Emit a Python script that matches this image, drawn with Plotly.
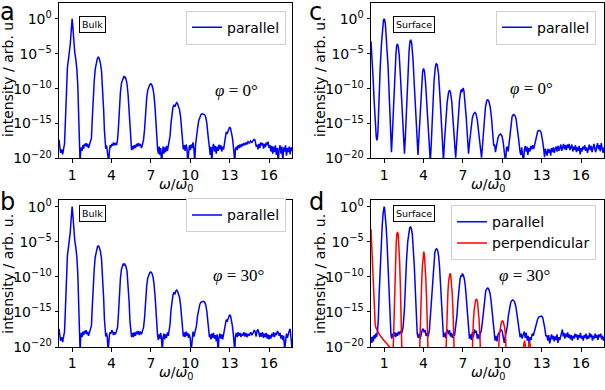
import plotly.graph_objects as go

# spectra: (omega/omega0, log10 intensity)
bulk_0deg = [
    (0.00,-17.3),(0.05,-18.4),(0.12,-19.2),(0.20,-18.7),(0.28,-19.4),(0.36,-18.5),(0.42,-17.9),
    (0.47,-15.5),(0.52,-12.0),(0.58,-9.0),(0.64,-7.0),(0.72,-5.8),(0.80,-4.8),(0.86,-3.6),(0.91,-2.2),
    (0.96,-0.8),(1.00,0.0),(1.04,-0.8),(1.09,-2.2),(1.14,-3.6),(1.20,-4.8),(1.28,-5.8),(1.36,-7.2),
    (1.43,-9.5),(1.49,-13.0),(1.54,-16.5),(1.58,-19.0),(1.61,-20.8),(1.65,-18.9),
    (1.70,-18.4),(1.76,-18.9),(1.82,-18.1),(1.88,-18.6),(1.94,-17.9),(2.00,-18.2),(2.06,-17.8),
    (2.12,-18.3),(2.18,-17.9),(2.25,-18.5),(2.32,-18.1),(2.40,-17.8),(2.47,-17.1),
    (2.53,-14.5),(2.60,-11.5),(2.68,-9.0),(2.76,-7.2),(2.84,-6.2),(2.92,-5.7),(2.97,-5.5),(3.02,-5.5),
    (3.08,-5.8),(3.16,-6.4),(3.24,-7.5),(3.32,-9.6),(3.40,-13.0),(3.46,-16.0),(3.51,-18.0),
    (3.56,-18.6),(3.62,-18.1),(3.68,-19.0),(3.74,-19.5),(3.79,-20.6),(3.84,-18.9),(3.90,-18.1),
    (3.96,-18.4),(4.02,-17.9),(4.08,-18.2),(4.15,-17.7),(4.22,-18.1),(4.30,-17.8),(4.38,-18.1),(4.46,-17.3),
    (4.53,-15.5),(4.60,-12.8),(4.68,-10.5),(4.76,-9.2),(4.84,-8.6),(4.90,-8.4),(4.95,-8.2),(5.00,-8.5),
    (5.04,-8.3),(5.10,-8.6),(5.18,-9.3),(5.26,-10.8),(5.34,-13.5),(5.41,-16.5),(5.47,-18.3),
    (5.53,-18.8),(5.60,-18.2),(5.67,-18.7),(5.74,-18.1),(5.82,-18.5),(5.90,-17.9),(5.97,-18.3),
    (6.04,-17.8),(6.12,-18.2),(6.20,-17.9),(6.28,-18.5),(6.36,-18.0),(6.44,-17.3),
    (6.52,-15.8),(6.60,-13.2),(6.68,-11.3),(6.76,-10.2),(6.84,-9.7),(6.92,-9.4),(7.00,-9.3),
    (7.08,-9.5),(7.16,-10.0),(7.24,-11.0),(7.32,-12.8),(7.40,-15.5),(7.46,-17.8),
    (7.51,-18.6),(7.57,-19.3),(7.63,-18.3),(7.69,-19.5),(7.75,-18.5),(7.81,-20.6),(7.87,-18.9),
    (7.93,-18.3),(7.99,-19.3),(8.05,-18.4),(8.12,-19.1),(8.19,-18.2),(8.26,-18.9),(8.33,-18.0),
    (8.40,-17.7),(8.46,-16.8),
    (8.53,-15.0),(8.60,-13.5),(8.68,-12.7),(8.76,-12.3),(8.83,-12.6),(8.90,-12.2),(8.97,-12.0),
    (9.04,-12.2),(9.11,-12.6),(9.18,-13.0),(9.26,-14.0),(9.34,-15.8),(9.41,-17.8),
    (9.47,-18.7),(9.54,-18.1),(9.61,-18.9),(9.68,-18.0),(9.75,-18.6),(9.81,-20.6),(9.86,-18.7),
    (9.93,-18.1),(10.00,-18.8),(10.07,-18.0),(10.14,-18.5),(10.21,-17.7),(10.28,-18.7),(10.34,-20.6),
    (10.40,-18.1),(10.47,-17.3),
    (10.55,-15.8),(10.64,-14.6),(10.73,-14.0),(10.82,-13.7),(10.91,-13.6),(11.00,-13.6),(11.09,-13.7),
    (11.18,-14.1),(11.26,-14.9),(11.33,-16.3),(11.40,-17.8),(11.46,-18.7),
    (11.52,-19.5),(11.58,-18.3),(11.64,-20.6),(11.70,-18.6),(11.77,-17.9),(11.84,-19.0),(11.91,-18.2),
    (11.98,-19.3),(12.05,-18.3),(12.12,-18.9),(12.19,-18.0),(12.26,-18.7),(12.33,-18.1),(12.40,-19.0),
    (12.47,-18.3),(12.54,-18.7),(12.61,-17.7),
    (12.68,-16.8),(12.74,-16.2),(12.80,-16.5),(12.86,-16.1),(12.93,-15.6),(13.00,-15.5),(13.07,-15.7),
    (13.14,-16.2),(13.21,-17.0),(13.28,-18.2),(13.34,-19.3),(13.39,-20.6),
    (13.44,-18.7),(13.51,-18.3),(13.58,-18.8),(13.65,-18.1),(13.72,-18.5),(13.79,-18.0),(13.86,-18.4),
    (13.93,-17.9),(14.00,-18.2),(14.08,-17.8),(14.16,-18.1),(14.24,-17.7),(14.32,-18.0),(14.40,-17.6),
    (14.50,-17.8),(14.60,-17.5),(14.70,-17.7),(14.80,-17.3),(14.88,-17.2),(14.95,-17.5),(15.02,-18.3),
    (15.09,-18.0),(15.16,-18.7),(15.23,-17.9),(15.30,-18.5),(15.37,-17.7),(15.44,-18.1),(15.51,-17.8),
    (15.58,-18.6),(15.65,-17.9),(15.72,-18.4),(15.79,-17.7),(15.86,-18.1),(15.93,-17.6),(16.00,-18.5),
    (16.07,-18.1),(16.14,-19.0),(16.21,-18.2),(16.28,-19.3),(16.35,-18.3),(16.42,-19.1),(16.49,-18.1),
    (16.56,-19.5),(16.63,-18.5),(16.70,-20.6),(16.77,-18.7),(16.84,-18.1),(16.91,-19.3),(16.98,-18.3),
    (17.05,-20.3),(17.12,-18.4),(17.19,-19.0),(17.26,-18.1),(17.33,-19.6),(17.40,-18.5),(17.47,-19.1),
    (17.54,-18.3),(17.61,-19.4),(17.68,-18.4),(17.75,-18.9),
]

bulk_30deg = [
    (0.00,-17.4),(0.05,-18.5),(0.12,-19.1),(0.20,-18.6),(0.28,-19.3),(0.36,-18.4),(0.42,-17.8),
    (0.47,-15.5),(0.52,-12.0),(0.58,-9.0),(0.64,-7.0),(0.72,-5.8),(0.80,-4.8),(0.86,-3.6),(0.91,-2.2),
    (0.96,-0.8),(1.00,0.0),(1.04,-0.8),(1.09,-2.2),(1.14,-3.6),(1.20,-4.8),(1.28,-5.8),(1.36,-7.2),
    (1.43,-9.5),(1.49,-13.0),(1.54,-16.5),(1.58,-19.0),(1.61,-20.8),(1.65,-18.6),
    (1.70,-18.0),(1.76,-18.6),(1.82,-17.8),(1.88,-18.3),(1.94,-17.7),(2.00,-18.1),(2.06,-17.6),
    (2.12,-18.2),(2.18,-17.8),(2.25,-18.4),(2.32,-18.0),(2.40,-17.7),(2.47,-17.0),
    (2.53,-14.5),(2.60,-11.5),(2.68,-9.0),(2.76,-7.2),(2.84,-6.2),(2.92,-5.8),(2.97,-5.6),(3.02,-5.6),
    (3.08,-5.9),(3.16,-6.4),(3.24,-7.5),(3.32,-9.6),(3.40,-13.0),(3.46,-16.0),(3.51,-17.9),
    (3.56,-18.5),(3.62,-18.0),(3.68,-18.7),(3.74,-20.6),(3.79,-19.0),(3.84,-18.3),(3.90,-17.9),
    (3.96,-18.1),(4.02,-17.6),(4.08,-17.8),(4.15,-18.3),(4.22,-17.9),(4.30,-18.2),(4.38,-17.8),(4.46,-17.2),
    (4.53,-15.3),(4.60,-12.5),(4.68,-10.2),(4.76,-8.9),(4.84,-8.3),(4.90,-8.1),(4.95,-8.4),(5.00,-8.1),
    (5.04,-8.3),(5.10,-8.5),(5.18,-9.2),(5.26,-10.8),(5.34,-13.5),(5.41,-16.5),(5.47,-18.2),
    (5.53,-18.6),(5.60,-18.0),(5.67,-18.6),(5.74,-17.9),(5.82,-18.4),(5.90,-17.8),(5.97,-18.2),
    (6.04,-17.7),(6.12,-18.3),(6.20,-17.8),(6.28,-18.2),(6.36,-17.7),(6.44,-17.2),
    (6.52,-15.8),(6.60,-13.2),(6.68,-11.3),(6.76,-10.2),(6.84,-9.7),(6.92,-9.4),(7.00,-9.3),
    (7.08,-9.5),(7.16,-10.0),(7.24,-11.0),(7.32,-12.8),(7.40,-15.5),(7.46,-17.8),
    (7.51,-18.4),(7.57,-19.0),(7.63,-18.2),(7.69,-18.8),(7.75,-18.0),(7.81,-18.9),(7.87,-20.6),
    (7.93,-18.6),(7.99,-18.1),(8.05,-18.9),(8.12,-18.2),(8.19,-18.7),(8.26,-17.9),(8.33,-18.4),
    (8.40,-17.6),(8.46,-16.7),
    (8.53,-14.8),(8.60,-13.3),(8.68,-12.6),(8.76,-12.2),(8.83,-12.5),(8.90,-12.0),(8.97,-11.9),
    (9.04,-12.1),(9.11,-12.5),(9.18,-12.9),(9.26,-14.0),(9.34,-15.8),(9.41,-17.8),
    (9.47,-18.5),(9.54,-17.9),(9.61,-18.6),(9.68,-17.8),(9.75,-18.4),(9.81,-18.0),(9.86,-18.7),
    (9.93,-18.2),(10.00,-18.8),(10.07,-20.6),(10.14,-18.4),(10.21,-17.8),(10.28,-18.5),(10.34,-18.0),
    (10.40,-17.8),(10.47,-17.0),
    (10.55,-15.6),(10.64,-14.4),(10.73,-13.9),(10.82,-13.6),(10.91,-13.5),(11.00,-13.5),(11.09,-13.6),
    (11.18,-14.0),(11.26,-14.9),(11.33,-16.3),(11.40,-17.8),(11.46,-18.6),
    (11.52,-18.2),(11.58,-18.9),(11.64,-18.1),(11.70,-18.7),(11.77,-18.0),(11.84,-18.8),(11.91,-18.3),
    (11.98,-19.2),(12.05,-18.2),(12.12,-20.6),(12.19,-18.6),(12.26,-18.1),(12.33,-18.8),(12.40,-18.2),
    (12.47,-18.9),(12.54,-18.3),(12.61,-17.6),
    (12.68,-16.7),(12.74,-16.1),(12.80,-16.4),(12.86,-16.0),(12.93,-15.5),(13.00,-15.4),(13.07,-15.6),
    (13.14,-16.1),(13.21,-17.0),(13.28,-18.2),(13.34,-19.3),(13.39,-20.6),
    (13.44,-18.5),(13.51,-18.0),(13.58,-18.6),(13.65,-17.9),(13.72,-18.4),(13.79,-18.0),(13.86,-18.6),
    (13.93,-18.1),(14.00,-18.4),(14.08,-17.9),(14.16,-18.5),(14.24,-18.0),(14.32,-18.6),(14.40,-18.1),
    (14.50,-18.4),(14.60,-17.9),(14.70,-18.3),(14.80,-17.8),(14.88,-17.6),(14.95,-17.9),(15.02,-18.5),
    (15.09,-17.7),(15.16,-17.5),(15.23,-18.0),(15.30,-18.6),(15.37,-18.0),(15.44,-18.5),(15.51,-17.9),
    (15.58,-18.7),(15.65,-18.1),(15.72,-18.6),(15.79,-18.0),(15.86,-18.8),(15.93,-18.2),(16.00,-18.9),
    (16.07,-18.3),(16.14,-18.8),(16.21,-18.1),(16.28,-18.5),(16.35,-17.9),(16.42,-18.6),(16.49,-18.0),
    (16.56,-18.3),(16.63,-17.8),(16.70,-17.9),(16.77,-18.4),(16.84,-18.0),(16.91,-18.8),(16.98,-18.3),
    (17.05,-19.0),(17.12,-18.4),(17.19,-20.4),(17.26,-18.6),(17.33,-18.1),(17.40,-18.7),(17.47,-18.0),
    (17.54,-17.7),(17.61,-17.4),(17.68,-18.5),(17.75,-20.2),
]

surface_0deg = [
    (0.00,-3.2),(0.08,-5.5),(0.16,-8.5),(0.24,-11.8),(0.32,-14.8),(0.40,-16.9),(0.45,-17.4),
    (0.49,-17.1),(0.53,-16.0),(0.60,-11.5),(0.70,-7.0),(0.80,-3.5),(0.90,-1.0),(0.95,-0.2),(1.00,0.0),
    (1.05,-0.2),(1.10,-0.9),(1.20,-3.2),(1.30,-6.8),(1.40,-11.5),(1.50,-16.5),(1.56,-19.1),
    (1.62,-16.8),(1.70,-12.8),(1.80,-8.5),(1.90,-5.0),(1.96,-3.8),(2.02,-3.6),(2.08,-4.0),(2.15,-5.2),
    (2.25,-8.5),(2.35,-12.5),(2.45,-16.5),(2.55,-19.3),(2.62,-16.8),(2.70,-12.5),(2.80,-8.0),
    (2.90,-4.6),(2.97,-3.2),(3.03,-3.0),(3.10,-3.5),(3.20,-5.8),(3.30,-9.5),(3.40,-13.5),(3.50,-17.3),
    (3.58,-19.5),(3.65,-17.0),(3.75,-12.8),(3.85,-9.5),(3.93,-7.6),(4.00,-7.1),(4.07,-7.5),(4.15,-9.0),
    (4.25,-12.5),(4.35,-16.0),(4.45,-19.0),(4.52,-20.5),(4.60,-17.5),(4.70,-13.0),(4.80,-9.0),
    (4.90,-6.9),(4.97,-6.4),(5.05,-6.6),(5.15,-8.0),(5.25,-11.0),(5.35,-14.8),(5.45,-18.5),(5.52,-20.3),
    (5.60,-17.5),(5.70,-14.5),(5.80,-12.0),(5.90,-10.6),(5.98,-10.2),(6.05,-10.5),(6.15,-11.8),
    (6.25,-14.5),(6.35,-17.5),(6.45,-19.9),(6.55,-17.0),(6.65,-13.8),(6.75,-11.5),(6.85,-10.3),
    (6.90,-10.1),(6.93,-10.5),(6.97,-10.0),(7.02,-9.9),(7.08,-10.3),(7.15,-11.5),(7.25,-14.0),
    (7.35,-17.0),(7.43,-19.3),(7.52,-17.5),(7.62,-15.5),(7.72,-14.2),(7.82,-13.6),(7.92,-13.4),
    (8.00,-13.6),(8.10,-14.5),(8.20,-16.2),(8.30,-18.2),(8.42,-19.9),(8.52,-17.5),(8.62,-14.5),
    (8.72,-12.6),(8.82,-11.7),(8.90,-11.6),(8.98,-11.8),(9.08,-12.6),(9.18,-14.2),(9.28,-16.5),
    (9.35,-18.2),(9.42,-18.0),(9.48,-19.1),(9.58,-18.0),(9.68,-17.0),(9.78,-16.6),(9.88,-16.5),
    (9.98,-16.8),(10.08,-17.8),(10.18,-19.5),(10.25,-20.5),(10.32,-18.5),(10.38,-18.3),(10.45,-19.0),
    (10.55,-17.0),(10.65,-15.0),(10.75,-14.0),(10.85,-13.7),(10.95,-13.8),(11.05,-14.3),(11.15,-15.6),
    (11.25,-17.3),(11.35,-19.0),(11.42,-19.5),(11.48,-18.4),(11.55,-19.3),(11.62,-20.6),(11.68,-18.8),
    (11.75,-18.2),(11.82,-19.0),(11.88,-18.3),(11.95,-19.5),(12.02,-18.5),(12.10,-19.0),(12.18,-18.2),
    (12.25,-18.7),(12.32,-18.1),(12.40,-18.6),(12.48,-17.9),(12.55,-17.1),(12.62,-16.5),(12.70,-16.1),
    (12.78,-16.0),(12.86,-16.0),(12.95,-16.2),(13.02,-16.8),(13.08,-17.6),(13.15,-18.6),(13.22,-19.8),
    (13.28,-18.6),(13.36,-19.2),(13.42,-19.6),(13.48,-18.6),(13.55,-19.2),(13.62,-18.7),(13.69,-19.6),
    (13.76,-18.5),(13.83,-19.1),(13.90,-18.4),(13.97,-19.2),(14.04,-18.6),(14.11,-18.3),(14.18,-19.0),
    (14.25,-18.2),(14.32,-18.9),(14.39,-18.4),(14.46,-18.0),(14.53,-18.9),(14.60,-18.3),(14.67,-17.9),
    (14.74,-18.7),(14.81,-18.1),(14.88,-18.8),(14.95,-18.0),(15.02,-18.5),(15.09,-17.9),(15.16,-18.8),
    (15.23,-18.2),(15.30,-18.0),(15.37,-19.0),(15.44,-18.3),(15.51,-18.8),(15.58,-18.1),(15.65,-19.1),
    (15.72,-18.4),(15.79,-18.9),(15.86,-18.2),(15.93,-19.4),(16.00,-18.5),(16.07,-19.0),(16.14,-18.3),
    (16.21,-18.7),(16.28,-18.1),(16.35,-18.9),(16.42,-18.4),(16.49,-19.2),(16.56,-18.6),(16.63,-18.0),
    (16.70,-18.8),(16.77,-18.2),(16.84,-19.1),(16.91,-18.4),(16.98,-17.9),(17.05,-18.6),(17.12,-19.1),
    (17.19,-18.3),(17.26,-17.8),(17.33,-18.7),(17.40,-18.1),(17.47,-19.0),(17.54,-17.8),(17.61,-18.5),
    (17.68,-19.2),(17.75,-18.4),
]

surface_30deg_par = [
    (0.00,-18.6),(0.06,-19.4),(0.12,-18.5),(0.18,-19.2),(0.24,-18.3),(0.30,-18.8),(0.36,-18.1),
    (0.42,-18.6),(0.50,-17.7),(0.56,-16.0),(0.62,-12.5),(0.70,-8.5),(0.78,-5.0),(0.85,-2.8),
    (0.92,-1.0),(0.97,-0.2),(1.00,0.0),(1.03,-0.2),(1.08,-1.0),(1.15,-2.8),(1.22,-5.0),(1.30,-8.5),
    (1.38,-12.5),(1.45,-16.0),(1.52,-18.2),(1.58,-18.8),(1.65,-18.1),(1.72,-18.5),(1.80,-17.9),
    (1.88,-18.6),(1.95,-18.0),(2.02,-18.4),(2.10,-17.8),(2.18,-18.2),(2.26,-17.7),(2.35,-18.0),
    (2.45,-17.1),(2.55,-14.5),(2.62,-11.0),(2.70,-7.8),(2.80,-5.0),(2.88,-3.6),(2.95,-3.0),(3.02,-2.9),
    (3.08,-3.2),(3.15,-4.0),(3.22,-5.8),(3.30,-8.5),(3.38,-12.0),(3.45,-15.5),(3.52,-18.1),(3.60,-18.7),
    (3.68,-18.1),(3.75,-18.8),(3.82,-17.9),(3.90,-17.6),(3.97,-17.4),(4.05,-17.9),(4.12,-17.6),
    (4.20,-18.4),(4.28,-18.0),(4.35,-18.5),(4.45,-17.6),(4.55,-15.0),(4.62,-12.5),(4.70,-9.8),
    (4.78,-7.8),(4.86,-6.6),(4.93,-6.1),(5.00,-6.0),(5.07,-6.2),(5.15,-7.0),(5.22,-8.5),(5.30,-10.8),
    (5.38,-13.8),(5.46,-16.8),(5.52,-18.6),(5.60,-18.0),(5.68,-18.7),(5.75,-17.8),(5.82,-17.5),
    (5.90,-18.2),(5.98,-17.6),(6.05,-18.5),(6.12,-18.0),(6.20,-18.7),(6.28,-18.1),(6.36,-18.4),
    (6.45,-17.3),(6.55,-15.5),(6.62,-13.5),(6.70,-11.6),(6.78,-10.4),(6.85,-9.8),(6.90,-10.0),
    (6.95,-9.6),(7.02,-9.7),(7.10,-10.2),(7.18,-11.2),(7.26,-13.0),(7.34,-15.3),(7.42,-17.5),
    (7.50,-18.8),(7.58,-18.2),(7.65,-19.0),(7.72,-17.9),(7.80,-18.6),(7.88,-17.5),(7.95,-18.0),
    (8.02,-17.7),(8.10,-18.8),(8.18,-18.2),(8.25,-18.9),(8.32,-18.1),(8.40,-17.7),(8.50,-16.2),
    (8.58,-14.4),(8.66,-12.9),(8.74,-12.0),(8.82,-11.7),(8.90,-11.6),(8.98,-11.8),(9.06,-12.3),
    (9.14,-13.3),(9.22,-14.8),(9.30,-16.5),(9.38,-18.3),(9.45,-19.1),(9.52,-18.4),(9.60,-19.2),
    (9.68,-18.2),(9.76,-17.9),(9.84,-17.6),(9.92,-17.5),(10.00,-17.8),(10.08,-18.5),(10.15,-19.4),
    (10.22,-18.6),(10.30,-18.0),(10.38,-17.1),(10.46,-15.6),(10.55,-14.4),(10.64,-13.7),(10.72,-13.4),
    (10.80,-13.3),(10.88,-13.4),(10.96,-13.7),(11.04,-14.3),(11.12,-15.5),(11.20,-16.8),(11.28,-17.9),
    (11.36,-18.6),(11.44,-18.1),(11.52,-18.8),(11.60,-18.2),(11.68,-17.8),(11.75,-18.7),(11.82,-18.0),
    (11.90,-19.1),(11.97,-18.4),(12.05,-19.6),(12.12,-18.6),(12.20,-19.0),(12.28,-18.1),(12.36,-18.4),
    (12.44,-17.8),(12.52,-17.3),(12.60,-16.6),(12.70,-16.0),(12.80,-15.7),(12.90,-15.6),(13.00,-15.6),
    (13.08,-15.8),(13.16,-16.4),(13.24,-17.3),(13.32,-18.4),(13.40,-18.4),(13.47,-19.1),(13.54,-18.3),
    (13.61,-19.5),(13.68,-18.6),(13.75,-18.2),(13.82,-18.9),(13.89,-18.4),(13.96,-19.2),(14.03,-18.5),
    (14.10,-19.0),(14.17,-18.2),(14.24,-19.4),(14.31,-18.6),(14.38,-19.0),(14.45,-18.3),(14.52,-17.8),
    (14.58,-17.5),(14.64,-18.5),(14.70,-18.0),(14.77,-18.8),(14.84,-18.1),(14.91,-18.6),(14.98,-17.9),
    (15.05,-18.7),(15.12,-18.2),(15.19,-18.9),(15.26,-18.3),(15.33,-19.1),(15.40,-18.4),(15.47,-18.8),
    (15.54,-18.1),(15.61,-18.6),(15.68,-18.2),(15.75,-19.0),(15.82,-18.3),(15.89,-18.7),(15.96,-18.0),
    (16.03,-18.8),(16.10,-18.4),(16.17,-19.1),(16.24,-18.3),(16.31,-18.7),(16.38,-18.1),(16.45,-18.9),
    (16.52,-18.4),(16.59,-18.8),(16.66,-18.0),(16.73,-18.6),(16.80,-18.2),(16.87,-19.1),(16.94,-18.4),
    (17.01,-18.8),(17.08,-18.1),(17.15,-18.7),(17.22,-18.3),(17.29,-19.0),(17.36,-18.2),(17.43,-18.6),
    (17.50,-18.1),(17.57,-18.9),(17.64,-18.4),(17.71,-19.1),(17.78,-18.6),
]

surface_30deg_perp = [
    (0.00,-3.2),(0.04,-5.0),(0.08,-7.0),(0.12,-9.0),(0.16,-11.0),(0.20,-12.8),(0.24,-14.6),
    (0.28,-16.0),(0.32,-16.8),(0.38,-17.3),(0.48,-17.7),(0.60,-18.1),(0.75,-18.5),(0.90,-18.9),
    (1.05,-19.2),(1.20,-19.5),(1.35,-19.8),(1.45,-20.1),(1.55,-21.0),(1.62,-23.0),
    (1.68,-21.0),(1.74,-16.0),(1.80,-11.5),(1.86,-7.8),(1.92,-5.2),(1.97,-3.9),(2.02,-3.6),
    (2.07,-3.9),(2.12,-5.2),(2.18,-7.8),(2.24,-11.5),(2.30,-16.0),(2.36,-21.0),(2.42,-26.0),
    (3.62,-26.0),(3.68,-21.0),(3.74,-17.0),(3.80,-13.6),(3.86,-10.8),(3.92,-8.4),(3.97,-7.0),
    (4.02,-6.4),(4.07,-6.9),(4.12,-8.1),(4.18,-10.5),(4.24,-13.4),(4.30,-17.0),(4.36,-21.0),(4.42,-26.0),
    (5.62,-26.0),(5.68,-21.5),(5.74,-17.5),(5.80,-14.5),(5.86,-12.2),(5.92,-10.5),(5.97,-9.7),
    (6.02,-9.5),(6.07,-9.7),(6.12,-10.5),(6.18,-12.2),(6.24,-14.5),(6.30,-17.5),(6.36,-21.5),(6.42,-26.0),
    (7.62,-26.0),(7.68,-21.5),(7.74,-18.5),(7.80,-16.3),(7.86,-14.7),(7.92,-13.7),(7.97,-13.3),
    (8.02,-13.2),(8.07,-13.3),(8.12,-13.7),(8.18,-14.7),(8.24,-16.3),(8.30,-18.5),(8.36,-21.5),(8.42,-26.0),
    (9.62,-26.0),(9.68,-21.5),(9.74,-19.5),(9.80,-18.0),(9.86,-17.1),(9.92,-16.6),(9.97,-16.35),
    (10.02,-16.3),(10.07,-16.4),(10.12,-16.7),(10.18,-17.2),(10.24,-18.2),(10.30,-19.8),(10.36,-22.0),
    (10.42,-26.0),
    (11.50,-26.0),(11.58,-21.0),(11.64,-19.6),(11.70,-19.1),(11.76,-19.6),(11.82,-20.6),(11.88,-21.2),
    (11.95,-20.4),(12.02,-19.4),(12.08,-19.2),(12.14,-19.8),(12.20,-21.0),(12.28,-26.0),(17.80,-26.0),
]

x_ticks = [1, 4, 7, 10, 13, 16]
y_ticks = [0, -5, -10, -15, -20]
y_ticktext = ["10<sup>0</sup>", "10<sup>−5</sup>", "10<sup>−10</sup>", "10<sup>−15</sup>", "10<sup>−20</sup>"]

W, H = 605, 390
FONT = "DejaVu Sans"
BLUE = "#0000ff"
RED = "#ff0000"


def px(p):
    return p / W


def py(p):
    return 1 - p / H


def curve(points, color, name, xa, ya, legend):
    return go.Scatter(
        x=[p[0] for p in points], y=[10 ** p[1] for p in points],
        mode="lines", line=dict(color=color, width=1.5),
        name=name, xaxis=xa, yaxis=ya, legend=legend, showlegend=True,
    )


fig = go.Figure()
fig.add_trace(curve(bulk_0deg, BLUE, "parallel", "x", "y", "legend"))
fig.add_trace(curve(surface_0deg, BLUE, "parallel", "x2", "y2", "legend2"))
fig.add_trace(curve(bulk_30deg, BLUE, "parallel", "x3", "y3", "legend3"))
fig.add_trace(curve(surface_30deg_par, BLUE, "parallel", "x4", "y4", "legend4"))
fig.add_trace(curve(surface_30deg_perp, RED, "perpendicular", "x4", "y4", "legend4"))

# panel boxes in pixels: left, right, top, bottom, log10 of y top
panels = {
    "": (59, 292, 0.5, 160, 2.2),
    "2": (371, 604, 0.5, 160, 2.2),
    "3": (59, 292, 203, 354, 0.9),
    "4": (371, 604, 203, 354, 0.9),
}

axis_common = dict(
    showline=True, mirror=True, linecolor="black", linewidth=1,
    ticks="outside", ticklen=3.5, tickwidth=1, tickcolor="black",
    showgrid=False, zeroline=False,
    tickfont=dict(family=FONT, size=14, color="black"),
)

layout_axes = {}
for k, (l, r, t, b, ytop) in panels.items():
    layout_axes["xaxis" + k] = dict(
        domain=[px(l), px(r)], range=[0, 17.75], anchor="y" + k,
        tickvals=x_ticks, **axis_common)
    layout_axes["yaxis" + k] = dict(
        domain=[py(b), py(t)], type="log", range=[-20, ytop], anchor="x" + k,
        tickvals=[10 ** v for v in y_ticks], ticktext=y_ticktext, **axis_common)

legend_style = dict(
    bgcolor="white", bordercolor="#d0d0d0", borderwidth=1,
    font=dict(family=FONT, size=14, color="black"),
    xanchor="right", yanchor="top", itemwidth=30, tracegroupgap=0, visible=True,
)

annotations = []


def text(x, y, s, size, family=FONT, **kw):
    annotations.append(dict(x=px(x), y=py(y), xref="paper", yref="paper", text=s,
                            xanchor="center", yanchor="middle", showarrow=False,
                            font=dict(family=family, size=size, color="black"), **kw))


for (l, r, t, b, _) in panels.values():
    text((l + r) / 2, b + 27, "<i>ω</i>/<i>ω</i><sub>0</sub>", 14)
    text(l - 51, (t + b) / 2 - 4 if t < 100 else (t + b) / 2, "intensity / arb. u.", 14, textangle=-90)

text(7, 9.6, "a", 24)
text(315, 9.6, "c", 24)
text(7, 204.6, "b", 24)
text(316, 204.6, "d", 24)

box = dict(bordercolor="black", borderwidth=1, borderpad=2)
text(92.5, 22.5, "Bulk", 9.5, **box)
text(92.5, 216.5, "Bulk", 9.5, **box)
text(414, 22.5, "Surface", 9.5, **box)
text(414, 216.5, "Surface", 9.5, **box)

SERIF = "Liberation Serif"
text(236, 90, "<i>φ</i> = 0°", 17, family=SERIF)
text(531, 88, "<i>φ</i> = 0°", 17, family=SERIF)
text(238, 280, "<i>φ</i> = 30°", 17, family=SERIF)
text(524, 280, "<i>φ</i> = 30°", 17, family=SERIF)

fig.update_layout(
    width=W, height=H, margin=dict(l=0, r=0, t=0, b=0),
    paper_bgcolor="white", plot_bgcolor="white", showlegend=True,
    legend=dict(x=px(286), y=py(8), **legend_style),
    legend2=dict(x=px(596), y=py(8), **legend_style),
    legend3=dict(x=px(286), y=py(201), **legend_style),
    legend4=dict(x=px(596), y=py(208), **legend_style),
    annotations=annotations,
    **layout_axes,
)

# the page body has a default margin; drop it so the figure sits at the window corner
fig.write_html("out.html", config={"displayModeBar": False},
               post_script="document.body.style.margin='0px';")
